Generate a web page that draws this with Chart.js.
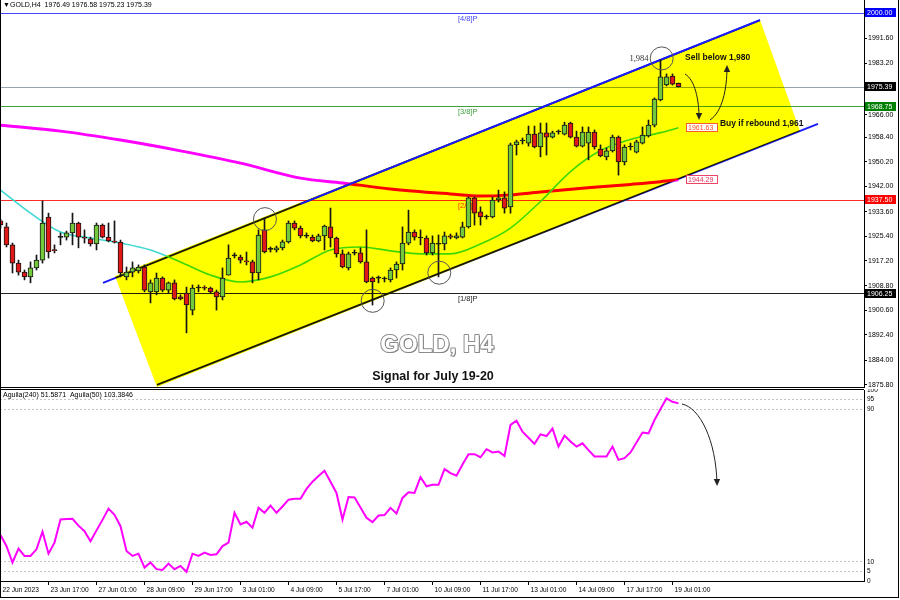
<!DOCTYPE html>
<html><head><meta charset="utf-8">
<script src="https://cdn.jsdelivr.net/npm/chart.js@4.4.0/dist/chart.umd.min.js"></script>
<style>
html,body{margin:0;padding:0;background:#fff;}
#wrap{position:relative;width:900px;height:600px;overflow:hidden;background:#fff;}
#c1{position:absolute;left:0;top:0;}
#c2{position:absolute;left:0;top:389px;}
#frame{position:absolute;left:0;top:0;width:897px;height:597px;border-left:1px solid #000;border-right:1px solid #000;border-bottom:1px solid #000;pointer-events:none;}
</style></head><body>
<div id="wrap">
<canvas id="c1" width="900" height="388"></canvas>
<canvas id="c2" width="900" height="211"></canvas>
<div id="frame"></div>
</div>
<script>
// ---------------- DATA ----------------
const opens  = [1930.5,1928.5,1922.5,1916.4,1913.4,1911.8,1914.8,1917.4,1931.8,1920.8,1925.1,1925.1,1926.5,1929.8,1924.9,1924.5,1922.8,1929.1,1925.1,1923.8,
1923.4,1911.8,1913.4,1913.8,1915.1,1906.8,1906.8,1911.4,1907.4,1909.8,1905.1,1906.4,1900.7,1908.1,1908.2,1908.1,1906.8,1905.1,1912.4,1918.8,
1918.4,1917.1,1916.8,1913.1,1927.5,1921.1,1920.8,1921.5,1923.5,1929.8,1928.1,1925.5,1925.1,1923.8,1925.5,1928.5,1924.8,1919.5,1914.8,1919.8,
1919.8,1916.8,1911.4,1911.4,1911.1,1910.8,1914.1,1916.1,1923.1,1926.8,1924.9,1924.8,1919.8,1922.8,1922.8,1925.5,1924.8,1925.1,1928.5,1938.2,
1933.5,1931.9,1931.8,1937.5,1938.2,1935.2,1955.9,1957.2,1956.5,1959.5,1955.2,1959.9,1958.5,1960.2,1959.5,1963.2,1958.5,1955.5,1956.5,1960.2,
1954.5,1951.9,1953.9,1958.5,1950.2,1955.2,1953.5,1956.5,1958.9,1962.5,1970.9,1975.9,1978.9,1976.49];
const highs  = [1931.0,1929.8,1923.1,1917.4,1914.1,1916.8,1919.1,1937.2,1933.1,1922.5,1926.5,1927.1,1933.1,1930.1,1927.5,1925.1,1929.8,1929.5,1929.8,1930.5,
1924.1,1915.1,1916.8,1915.8,1915.8,1910.8,1913.1,1911.8,1910.1,1910.8,1905.8,1908.4,1909.1,1909.1,1908.8,1908.4,1907.4,1914.8,1922.5,1919.8,
1919.1,1920.1,1917.4,1927.5,1931.5,1921.8,1922.1,1924.1,1930.5,1930.5,1928.8,1926.5,1925.8,1926.1,1929.1,1934.8,1925.1,1920.8,1920.1,1920.8,
1921.5,1927.5,1911.8,1912.1,1911.8,1914.8,1916.8,1928.5,1934.1,1927.5,1927.5,1925.5,1925.5,1925.8,1926.8,1926.1,1926.5,1930.1,1938.5,1938.5,
1935.2,1932.5,1938.5,1940.8,1940.2,1956.5,1957.5,1958.2,1962.2,1962.2,1963.2,1963.2,1960.5,1960.9,1963.5,1963.5,1960.5,1961.9,1961.9,1960.9,
1955.9,1954.9,1959.2,1958.9,1955.9,1956.5,1957.5,1961.9,1964.2,1971.6,1984.3,1979.6,1979.6,1976.58];
const lows   = [1928.0,1921.8,1913.1,1912.4,1910.8,1909.8,1914.1,1916.4,1918.1,1919.8,1922.5,1924.1,1922.5,1921.5,1923.1,1922.1,1920.8,1924.8,1923.5,1923.1,
1911.8,1910.8,1911.8,1913.1,1906.8,1903.1,1905.8,1906.8,1906.4,1904.1,1904.1,1893.1,1899.1,1906.8,1907.4,1906.4,1900.7,1904.1,1912.4,1918.1,
1916.4,1915.8,1909.8,1910.8,1919.8,1920.1,1920.1,1920.8,1923.1,1927.5,1924.8,1924.8,1923.5,1923.5,1920.8,1921.8,1918.4,1914.8,1914.1,1919.1,
1916.4,1909.8,1902.4,1909.8,1910.1,1910.1,1911.4,1914.1,1922.5,1924.1,1922.5,1919.1,1919.1,1911.8,1920.8,1924.5,1924.5,1924.8,1928.1,1929.1,
1929.1,1931.1,1931.5,1936.8,1933.1,1933.1,1952.5,1956.2,1955.5,1954.9,1951.9,1952.5,1958.2,1959.5,1959.2,1958.2,1955.2,1955.2,1950.9,1954.5,
1951.9,1950.9,1953.5,1945.8,1949.2,1954.2,1953.2,1956.2,1958.5,1961.9,1970.6,1975.6,1975.9,1975.23];
const closes = [1929.2,1922.5,1916.4,1913.4,1911.8,1914.8,1917.4,1929.8,1920.1,1920.6,1925.0,1926.5,1929.8,1925.1,1924.7,1922.8,1929.1,1925.1,1923.8,1923.4,
1913.1,1913.4,1914.8,1915.1,1907.4,1909.8,1911.4,1907.4,1909.8,1904.4,1904.4,1902.4,1908.1,1908.2,1908.0,1906.8,1905.1,1911.4,1918.1,1918.9,
1917.4,1916.8,1913.1,1925.8,1920.1,1921.0,1921.5,1923.5,1929.8,1928.1,1925.5,1925.4,1923.8,1925.5,1928.8,1924.8,1919.5,1915.1,1919.5,1919.7,
1916.8,1910.1,1910.1,1911.5,1911.2,1914.1,1916.1,1923.1,1926.8,1925.1,1924.8,1919.8,1923.1,1922.7,1925.5,1925.1,1925.5,1928.5,1938.2,1933.1,
1931.8,1931.8,1937.5,1938.2,1934.8,1955.9,1956.9,1957.3,1959.5,1955.2,1959.9,1958.5,1959.9,1960.3,1962.5,1958.5,1955.5,1960.2,1960.2,1955.2,
1952.2,1953.9,1958.5,1950.2,1955.2,1955.3,1956.9,1959.2,1962.5,1971.2,1978.6,1978.6,1976.2,1975.39];

// moving averages read at a few bars (bar index, price)
const maFastX = [0,5,10,15,20,25,30,35,40,45,50,55,60,65,70,75,80,85,90,95,100,105,110,113];
const maFast  = [1940.8,1933.1,1926.8,1924.8,1923.1,1920.8,1916.8,1912.4,1910.1,1911.8,1915.8,1920.8,1921.8,1920.5,1919.5,1919.5,1922.8,1928.1,1937.0,1947.0,1954.0,1957.7,1960.0,1961.63];
const maSlowX = [0,10,20,30,40,50,57,65,75,80,85,90,100,105,110,113];
const maSlow  = [1962.5,1960.5,1957.5,1953.9,1949.8,1944.8,1943.2,1941.2,1939.5,1938.8,1939.2,1940.2,1941.9,1942.7,1943.6,1944.29];

// oscillator (Aguila 50), one value per bar
const aguila = [24.1,18.3,9.7,16.9,13.1,13.1,16.6,25.8,14.3,20.1,32.2,32.5,32.6,29.0,26.1,20.8,26.5,32.0,37.9,34.7,
28.7,15.7,13.1,14.3,7.0,9.7,6.2,5.8,9.1,6.2,7.9,4.8,14.3,13.1,14.9,13.6,14.0,18.3,20.1,35.7,
29.6,31.0,27.9,38.3,35.7,39.5,35.7,39.0,42.6,43.0,43.0,48.2,52.0,55.0,57.7,52.0,46.1,32.2,44.0,43.8,
38.5,33.1,30.8,34.3,34.5,38.3,35.3,43.5,46.4,46.1,54.4,49.6,50.4,50.4,58.6,56.5,55.1,61.0,66.4,66.4,
64.8,69.0,67.3,67.8,65.5,81.7,83.9,78.2,75.0,71.8,76.8,75.9,79.8,70.4,76.1,73.0,70.4,72.1,68.5,65.2,
65.2,65.2,70.4,63.4,64.3,67.3,72.5,77.7,77.3,84.3,90.0,95.6,93.8,93.0];

const xTickIdx = [0,8,16,24,32,40,48,56,64,72,80,88,96,104,112];
const xTickLabels = ['22 Jun 2023','23 Jun 17:00','27 Jun 01:00','28 Jun 09:00','29 Jun 17:00','3 Jul 01:00','4 Jul 09:00','5 Jul 17:00','7 Jul 01:00','10 Jul 09:00','11 Jul 17:00','13 Jul 01:00','14 Jul 09:00','17 Jul 17:00','19 Jul 01:00'];
const priceTicks = [1991.6,1983.2,1966.0,1958.4,1950.2,1942.0,1933.6,1925.4,1917.2,1908.8,1900.6,1892.4,1884.0,1875.8];
const aguilaTicks = [100,95,90,10,5,0];
const aguilaGuides = [95,90,10,5];

const levelPrices = [2000.00,1975.39,1968.75,1937.50,1906.25];
const levelNames  = ['[4/8]P','','[3/8]P','[2/8]P','[1/8]P'];

// channel (bar index, price)
const channelUpper = [[17.08,1909.8],[126.58,1997.6]];
const channelLower = [[26.08,1875.7],[136.25,1962.9]];
const channelFill  = [[19.08,1912.1],[126.58,1997.63],[133.25,1960.54],[26.08,1875.0]];
const circles = [[44.08,1931.1],[62.03,1903.8],[73.13,1913.2],[110.2,1984.8]];

// ---------------- STYLE ----------------
const FONT = '"Liberation Sans", Arial, sans-serif';
const levelColors = ['#4646ff','#97a3ae','#3fa03f','#ff2a2a','#222222'];
const levelBox = ['#0000ff','#000000','#008000','#ff0000','#000000'];
const UP = '#74c83c', DOWN = '#e01818', EDGE = '#151515';
const X_MIN = -1/12, X_MAX = 144 - 1/12;
const P_MAX = 2004.31, P_MIN = 2004.31 - 388*0.33411;

Chart.defaults.font.family = FONT;

function px(chart, i, v){ return [chart.scales.x.getPixelForValue(i), chart.scales.y.getPixelForValue(v)]; }
function clipArea(ctx, a){ ctx.beginPath(); ctx.rect(a.left, a.top, a.right-a.left, a.bottom-a.top); ctx.clip(); }
function seg(chart, pts, color, w, fromIdx){
  const ctx = chart.ctx;
  let p0 = pts[0], p1 = pts[1];
  if (fromIdx !== undefined){ const t=(fromIdx-p0[0])/(p1[0]-p0[0]); p0=[fromIdx, p0[1]+t*(p1[1]-p0[1])]; }
  const a = px(chart, p0[0], p0[1]), b = px(chart, p1[0], p1[1]);
  ctx.strokeStyle=color; ctx.lineWidth=w; ctx.beginPath(); ctx.moveTo(a[0],a[1]); ctx.lineTo(b[0],b[1]); ctx.stroke();
}
function arrow(ctx, p0, c1, c2, p1, color, w){
  ctx.save(); ctx.strokeStyle=color; ctx.fillStyle=color; ctx.lineWidth=w;
  ctx.beginPath(); ctx.moveTo(p0[0],p0[1]); ctx.bezierCurveTo(c1[0],c1[1],c2[0],c2[1],p1[0],p1[1]); ctx.stroke();
  const an = Math.atan2(p1[1]-c2[1], p1[0]-c2[0]); const L=7, W=3.2;
  const tx = p1[0]+Math.cos(an)*2, ty = p1[1]+Math.sin(an)*2;
  ctx.beginPath(); ctx.moveTo(tx,ty);
  ctx.lineTo(tx-Math.cos(an)*L+Math.sin(an)*W, ty-Math.sin(an)*L-Math.cos(an)*W);
  ctx.lineTo(tx-Math.cos(an)*L-Math.sin(an)*W, ty-Math.sin(an)*L+Math.cos(an)*W);
  ctx.closePath(); ctx.fill(); ctx.restore();
}
function box(ctx, x, y, w, h, bg, border, text, color){
  ctx.fillStyle=bg; ctx.fillRect(x, Math.round(y-h/2), w, h);
  if (border){ ctx.strokeStyle=border; ctx.lineWidth=1; ctx.strokeRect(x+0.5, Math.round(y-h/2)+0.5, w-1, h-1); }
  ctx.fillStyle=color; ctx.font='7px '+FONT; ctx.textAlign='left'; ctx.textBaseline='middle'; ctx.fillText(text, x+2, y+0.5);
}

const overlay = {
  id:'overlay',
  beforeDatasetsDraw(chart){
    const {ctx, chartArea:a} = chart; const ys = chart.scales.y, xs = chart.scales.x;
    ctx.save(); clipArea(ctx, a);
    levelPrices.forEach((v,k)=>{
      const y = Math.round(ys.getPixelForValue(v))+0.5;
      ctx.strokeStyle=levelColors[k]; ctx.lineWidth=1; ctx.beginPath(); ctx.moveTo(a.left,y); ctx.lineTo(a.right,y); ctx.stroke();
      if (levelNames[k]){ ctx.fillStyle=levelColors[k]==='#222222'?'#222':levelColors[k]; ctx.font='7.5px '+FONT; ctx.textBaseline='middle'; ctx.textAlign='left';
        ctx.fillText(levelNames[k], xs.getPixelForValue(76.25), y+5.5); }
    });
    seg(chart, channelLower, '#1a1aff', 2);
    seg(chart, channelUpper, '#1a1aff', 2);
    ctx.restore();
  },
  afterDatasetDraw(chart, args){
    if (args.index !== 1) return;
    const {ctx, chartArea:a} = chart;
    ctx.save(); clipArea(ctx, a);
    ctx.globalCompositeOperation='multiply';
    ctx.fillStyle='#ffff00'; ctx.beginPath();
    channelFill.forEach((p,k)=>{ const q=px(chart,p[0],p[1]); k?ctx.lineTo(q[0],q[1]):ctx.moveTo(q[0],q[1]); });
    ctx.closePath(); ctx.fill();
    ctx.globalCompositeOperation='source-over';
    seg(chart, channelUpper, '#1a1aff', 2, 50);
    ctx.restore();
  },
  afterDatasetsDraw(chart){
    const {ctx, chartArea:a} = chart;
    ctx.save(); clipArea(ctx, a);
    ctx.strokeStyle='#555'; ctx.lineWidth=1;
    circles.forEach(c=>{ const q=px(chart,c[0],c[1]); ctx.beginPath(); ctx.arc(q[0],q[1],11.5,0,Math.PI*2); ctx.stroke(); });
    // high label
    const hp = px(chart, 110, highs[110]);
    ctx.fillStyle='#333'; ctx.font='8.5px "Liberation Serif", serif'; ctx.textAlign='right'; ctx.textBaseline='middle';
    ctx.fillText('1,984', hp[0]-12, hp[1]-1);
    ctx.fillStyle='#111'; ctx.font='bold 8.5px '+FONT; ctx.textAlign='left';
    let q = px(chart, 114.1, 1984.9); ctx.fillText('Sell below 1,980', q[0], q[1]);
    q = px(chart, 119.9, 1962.9); ctx.fillText('Buy if rebound 1,961', q[0], q[1]);
    // arrows
    arrow(ctx, px(chart,114.08,1979.6), px(chart,115.75,1977.6), px(chart,116.42,1970.9), px(chart,116.42,1964.9), '#222', 1);
    arrow(ctx, px(chart,118.25,1964.2), px(chart,120.25,1966.9), px(chart,121.08,1974.2), px(chart,121.08,1981.9), '#222', 1);
    // MA value boxes
    q = px(chart, 114.25, maFast[maFast.length-1]);
    box(ctx, Math.round(q[0]), q[1], 32, 9, '#fff', '#ff5a28', maFast[maFast.length-1].toFixed(2), '#ff4a18');
    q = px(chart, 114.25, maSlow[maSlow.length-1]);
    box(ctx, Math.round(q[0]), q[1], 32, 9, '#fff', '#ee4466', maSlow[maSlow.length-1].toFixed(2), '#e8305a');
    ctx.restore();
  },
  afterDraw(chart){
    const {ctx, chartArea:a} = chart; const ys = chart.scales.y;
    ctx.save();
    levelPrices.forEach((v,k)=>{ box(ctx, a.right+1, ys.getPixelForValue(v), 31, 9, levelBox[k], null, v.toFixed(2), '#fff'); });
    // bottom separator
    ctx.strokeStyle='#000'; ctx.lineWidth=1; ctx.beginPath(); ctx.moveTo(0,a.bottom-0.5); ctx.lineTo(a.right,a.bottom-0.5); ctx.stroke();
    // header
    ctx.fillStyle='#000'; ctx.font='7px '+FONT; ctx.textAlign='left'; ctx.textBaseline='middle';
    ctx.fillText('▼', 3, 5.5);
    ctx.fillText('GOLD,H4  1976.49 1976.58 1975.23 1975.39', 10, 5.5);
    // titles
    ctx.textAlign='center';
    ctx.font='bold 24px '+FONT;
    ctx.lineJoin='round';
    ctx.fillStyle='#6e6e6e'; ctx.fillText('GOLD, H4', 438, 346.5);
    ctx.strokeStyle='#8c8c8c'; ctx.lineWidth=2; ctx.strokeText('GOLD, H4', 437, 345);
    ctx.fillStyle='#ffffff'; ctx.fillText('GOLD, H4', 437, 345);
    ctx.font='bold 12.5px '+FONT; ctx.fillStyle='#111'; ctx.fillText('Signal for July 19-20', 433, 377);
    ctx.restore();
  }
};

const isDoji = i => Math.abs(closes[i]-opens[i]) < 0.15;
const bodyColor = i => isDoji(i) ? EDGE : (closes[i] > opens[i] ? UP : DOWN);

new Chart(document.getElementById('c1'), {
  type:'bar',
  data:{ datasets:[
    { type:'line', data: maSlowX.map((x,i)=>({x, y:maSlow[i]})), borderColor:'#ff00ff', borderWidth:3, pointRadius:0, cubicInterpolationMode:'monotone', order:10 },
    { type:'line', data: maFastX.map((x,i)=>({x, y:maFast[i]})), borderColor:'#3ed8d2', borderWidth:1.6, pointRadius:0, cubicInterpolationMode:'monotone', order:9 },
    { type:'bar', data: lows.map((l,i)=>({x:i, y:[l, highs[i]]})), backgroundColor:EDGE, borderWidth:0, barThickness:1, grouped:false, order:2 },
    { type:'bar', data: opens.map((o,i)=>({x:i, y:[o, closes[i]]})), backgroundColor: c=>bodyColor(c.dataIndex), borderColor:EDGE, borderWidth:1, borderSkipped:false, barThickness:5, minBarLength:1, grouped:false, order:1 }
  ]},
  options:{
    responsive:false, animation:false, devicePixelRatio:1, events:[],
    layout:{padding:0},
    plugins:{legend:{display:false}, tooltip:{enabled:false}},
    scales:{
      x:{ type:'linear', min:X_MIN, max:X_MAX, offset:false, display:false },
      y:{ type:'linear', position:'right', min:P_MIN, max:P_MAX,
        afterBuildTicks: s=>{ s.ticks = priceTicks.map(v=>({value:v})); },
        afterFit: s=>{ s.width=36; s.paddingTop=0; s.paddingBottom=0; },
        grid:{ drawOnChartArea:false, drawTicks:true, tickLength:3, color:'#000' },
        border:{ color:'#000' },
        ticks:{ autoSkip:false, padding:1, color:'#000', font:{size:7}, callback:v=>v.toFixed(2) } }
    }
  },
  plugins:[overlay]
});

const ind = {
  id:'ind',
  afterDraw(chart){
    const {ctx, chartArea:a} = chart; const xs=chart.scales.x, ys=chart.scales.y;
    const P = (i,v)=>[xs.getPixelForValue(i), ys.getPixelForValue(v)];
    ctx.save();
    ctx.strokeStyle='#000'; ctx.lineWidth=1; ctx.beginPath(); ctx.moveTo(0,0.5); ctx.lineTo(a.right,0.5); ctx.stroke();
    ctx.fillStyle='#000'; ctx.font='7px '+FONT; ctx.textAlign='left'; ctx.textBaseline='middle';
    ctx.fillText('Aguila(240) 51.5871  Aguila(50) 103.3846', 3, 6.5);
    arrow(ctx, P(113.58,92.7), P(116.58,90.6), P(119.25,73.8), P(119.42,50.8), '#222', 1);
    ctx.restore();
  }
};

new Chart(document.getElementById('c2'), {
  type:'line',
  data:{ datasets:[ { data: aguila.map((v,i)=>({x:i, y:v})), borderColor:'#ff00ff', borderWidth:2, pointRadius:0, tension:0 } ]},
  options:{
    responsive:false, animation:false, devicePixelRatio:1, events:[],
    layout:{padding:{top:1}},
    plugins:{legend:{display:false}, tooltip:{enabled:false}},
    scales:{
      x:{ type:'linear', min:X_MIN, max:X_MAX, offset:false,
        afterBuildTicks: s=>{ s.ticks = xTickIdx.map(v=>({value:v})); },
        afterFit: s=>{ s.height=19; s.paddingLeft=0; s.paddingRight=0; },
        grid:{ drawOnChartArea:false, drawTicks:true, tickLength:4, color:'#000' },
        border:{ color:'#000' },
        ticks:{ autoSkip:false, maxRotation:0, align:'start', labelOffset:2, padding:1, color:'#000', font:{size:6.6},
          callback:v=>{ const k=xTickIdx.indexOf(v); return k>=0 ? xTickLabels[k] : ''; } } },
      y:{ type:'linear', position:'right', min:0, max:100,
        afterBuildTicks: s=>{ s.ticks = aguilaTicks.map(v=>({value:v})); },
        afterFit: s=>{ s.width=36; s.paddingTop=0; s.paddingBottom=0; },
        grid:{ drawTicks:false, color: c=> (c.tick && aguilaGuides.includes(c.tick.value)) ? '#c4c4c4' : 'rgba(0,0,0,0)' },
        border:{ color:'#000', dash:[2,2] },
        ticks:{ autoSkip:false, padding:3, color:'#000', font:{size:6.5} } }
    }
  },
  plugins:[ind]
});
</script>
</body></html>
